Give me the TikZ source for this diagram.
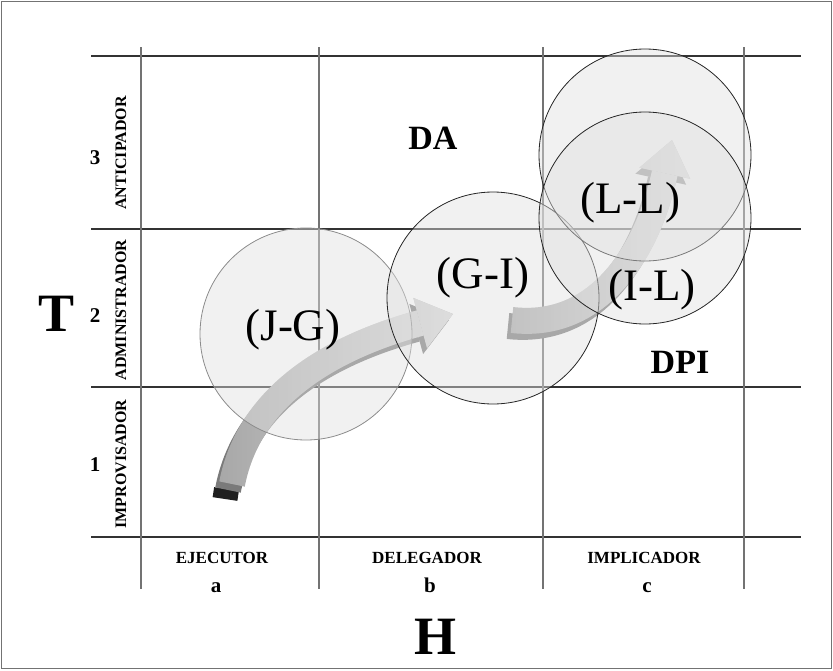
\documentclass[tikz,border=0pt]{standalone}
\usepackage{fontspec}
\setmainfont{Liberation Serif}
\usetikzlibrary{positioning,arrows.meta,fadings}

\tikzfading[name=fadetail, left color=transparent!100, right color=transparent!0]

\begin{document}
\begin{tikzpicture}[
    x=1pt, y=-1pt,
    hline/.style={draw=black!80, line width=1.1pt},
    vline/.style={draw=black!55, line width=1.3pt},
    zone/.style={circle, draw=black!85, line width=0.8pt, fill=black!12, fill opacity=0.45, minimum size=212pt, inner sep=0pt},
    zonelabel/.style={font=\fontsize{45}{45}\selectfont, inner sep=0pt},
    areatag/.style={font=\fontsize{34}{34}\selectfont\bfseries, inner sep=0pt},
    axistag/.style={font=\fontsize{54}{54}\selectfont\bfseries, inner sep=0pt},
    rowlabel/.style={font=\fontsize{16}{16}\selectfont\bfseries, rotate=90, inner sep=0pt},
    collabel/.style={font=\fontsize{17}{17}\selectfont\bfseries, inner sep=0pt},
    levelnum/.style={font=\fontsize{21}{21}\selectfont\bfseries, inner sep=0pt},
    band/.style={line width=26pt, -{Triangle[width=52pt,length=34pt,line width=0pt]}},
    bandshadow/.style={band, draw=black!52, transform canvas={xshift=-4pt,yshift=-6pt}},
    bandbase/.style={band, draw=black!34},
    bandlight/.style={band, draw=black!13, path fading=fadetail},
]
\useasboundingbox (0,0) rectangle (833,670);
\draw[black!55, line width=1.5pt] (1.5,1.5) rectangle (831.5,668.5);

% grid
\foreach \y in {56,229,387,537} \draw[hline] (91,\y) -- (801,\y);
\foreach \x in {141,319,543,744} \draw[vline] (\x,47) -- (\x,589);

% arrow J-G -> G-I
\coordinate (jgtail) at (232,484);
\coordinate (jgbend1) at (250,390);
\coordinate (jgbend2) at (340,345);
\coordinate (jgtip) at (453,314);
\draw[line width=25pt, draw=black!88, transform canvas={xshift=-7pt,yshift=-15pt}] (jgtail) -- ([shift={(1.5,-10)}]jgtail);
\draw[bandshadow] (jgtail) .. controls (jgbend1) and (jgbend2) .. (jgtip);
\draw[bandbase] (jgtail) .. controls (jgbend1) and (jgbend2) .. (jgtip);
\draw[bandlight] (jgtail) .. controls (jgbend1) and (jgbend2) .. (jgtip);

% arrow G-I -> L-L
\coordinate (gitail) at (512,320);
\coordinate (gibend1) at (600,330);
\coordinate (gibend2) at (648,250);
\coordinate (gitip) at (672,140);
\draw[bandshadow] (gitail) .. controls (gibend1) and (gibend2) .. (gitip);
\draw[bandbase] (gitail) .. controls (gibend1) and (gibend2) .. (gitip);
\draw[bandlight] (gitail) .. controls (gibend1) and (gibend2) .. (gitip);

% circles
\node[zone, draw=black!45] (cJG) at (306,334) {};
\node[zone] (cGI) at (493,298) {};
\node[zone] (cLL) at (645,155) {};
\node[zone] (cIL) at (645,218) {};

\node[zonelabel] (jgLabel) at (293,330) {(J-G)};
\node[zonelabel] (giLabel) at (483,278) {(G-I)};
\node[zonelabel] (llLabel) at (630,203) {(L-L)};
\node[zonelabel] (ilLabel) at (652,290) {(I-L)};
\node[areatag] (da) at (433,138) {DA};
\node[areatag] (dpi) at (680,362) {DPI};

% axes
\node[axistag] (tAxis) at (57,314) {T};
\node[axistag] (hAxis) at (435,637) {H};
\node[rowlabel] (improv) at (121,464) {IMPROVISADOR};
\node[rowlabel] (admin) at (121,310) {ADMINISTRADOR};
\node[rowlabel] (antic) at (121,153) {ANTICIPADOR};
\node[levelnum] (lvl1) at (95,465) {1};
\node[levelnum] (lvl2) at (95,316) {2};
\node[levelnum] (lvl3) at (95,158) {3};
\node[collabel] (ejec) at (222,558) {EJECUTOR};
\node[collabel] (deleg) at (427,558) {DELEGADOR};
\node[collabel] (implic) at (644,558) {IMPLICADOR};
\node[levelnum, anchor=base] (colA) at (216,592) {a};
\node[levelnum, anchor=base] (colB) at (430,592) {b};
\node[levelnum, anchor=base] (colC) at (647,592) {c};
\end{tikzpicture}
\end{document}
